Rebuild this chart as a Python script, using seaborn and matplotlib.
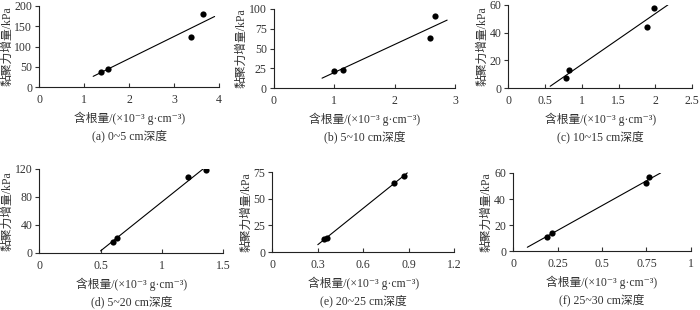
import numpy as np
import pandas as pd
import seaborn as sns
from matplotlib import pyplot as plt

# root content (x 10^-3 g/cm3) and cohesion increase (kPa) per depth
captions = ["(a) 0~5 cm深度", "(b) 5~10 cm深度", "(c) 10~15 cm深度",
            "(d) 5~20 cm深度", "(e) 20~25 cm深度", "(f) 25~30 cm深度"]
root_a = [1.38, 1.52, 3.38, 3.65]
coh_a = [38, 45, 123, 180]
root_b = [1.00, 1.15, 2.58, 2.67]
coh_b = [22, 23, 63, 91]
root_c = [0.78, 0.82, 1.88, 1.98]
coh_c = [7, 13, 44, 58]
root_d = [0.60, 0.63, 1.21, 1.36]
coh_d = [16, 21, 108, 119]
root_e = [0.34, 0.36, 0.80, 0.87]
coh_e = [12, 13, 65, 71]
root_f = [0.19, 0.22, 0.75, 0.765]
coh_f = [11, 14, 52, 57]

# x range over which the fitted line is drawn
line_x = [(1.2, 3.9), (0.8, 2.87), (0.57, 2.17), (0.5, 1.35), (0.3, 0.89), (0.08, 0.83)]

x_ticks = [[0, 1, 2, 3, 4], [0, 1, 2, 3], [0, 0.5, 1, 1.5, 2, 2.5],
           [0, 0.5, 1, 1.5], [0, 0.3, 0.6, 0.9, 1.2], [0, 0.25, 0.5, 0.75, 1]]
x_labels = [["0", "1", "2", "3", "4"], ["0", "1", "2", "3"],
            ["0", "0.5", "1", "1.5", "2", "2.5"], ["0", "0.5", "1", "1.5"],
            ["0", "0.3", "0.6", "0.9", "1.2"], ["0", "0.25", "0.5", "0.75", "1"]]
y_ticks = [[0, 50, 100, 150, 200], [0, 25, 50, 75, 100], [0, 20, 40, 60],
           [0, 40, 80, 120], [0, 25, 50, 75], [0, 20, 40, 60]]

roots = [root_a, root_b, root_c, root_d, root_e, root_f]
cohs = [coh_a, coh_b, coh_c, coh_d, coh_e, coh_f]

sns.set_theme(style="ticks")
plt.rcParams['font.family'] = ['Liberation Serif', 'Noto Sans CJK SC', 'DejaVu Serif']
plt.rcParams['font.size'] = 8

# axes boxes [left, bottom, width, height] in figure fraction
boxes = [[0.056, 0.719, 0.257, 0.262], [0.391, 0.716, 0.259, 0.255],
         [0.726, 0.716, 0.263, 0.268], [0.056, 0.184, 0.263, 0.271],
         [0.389, 0.187, 0.260, 0.258], [0.733, 0.190, 0.254, 0.252]]

txt = "#333333"
fig = plt.figure(figsize=(7, 3.1), dpi=100)

for i in range(6):
    ax = fig.add_axes(boxes[i])
    df = pd.DataFrame({"x": roots[i], "y": cohs[i]})
    k, b = np.polyfit(df["x"], df["y"], 1)
    fit = pd.DataFrame({"x": list(line_x[i])})
    fit["y"] = k * fit["x"] + b
    sns.lineplot(data=fit, x="x", y="y", ax=ax, color="black", linewidth=0.8)
    sns.scatterplot(data=df, x="x", y="y", ax=ax, color="black", s=20,
                    edgecolor="black", linewidth=0, zorder=3)
    ax.set_xlim(x_ticks[i][0], x_ticks[i][-1])
    ax.set_ylim(y_ticks[i][0], y_ticks[i][-1])
    ax.set_xticks(x_ticks[i])
    ax.set_xticklabels(x_labels[i])
    ax.set_yticks(y_ticks[i])
    ax.tick_params(axis="x", direction="in", length=3, width=0.8,
                   labelsize=8.5, colors=txt, pad=5)
    ax.tick_params(axis="y", direction="out", length=3, width=0.8,
                   labelsize=8.5, colors=txt, pad=2)
    for s in ["left", "bottom"]:
        ax.spines[s].set_linewidth(0.8)
        ax.spines[s].set_color("#222222")
    sns.despine(ax=ax)
    ax.set_xlabel("含根量/(×10⁻³ g·cm⁻³)", fontsize=8.5, color=txt, labelpad=4)
    ax.set_ylabel("黏聚力增量/kPa", fontsize=8.5, color=txt, labelpad=1)
    ax.annotate(captions[i], xy=(0.5, 0), xycoords="axes fraction",
                xytext=(0, -35), textcoords="offset points",
                ha="center", va="center", fontsize=8.5, color=txt)

fig.savefig("out.png", dpi=100)
